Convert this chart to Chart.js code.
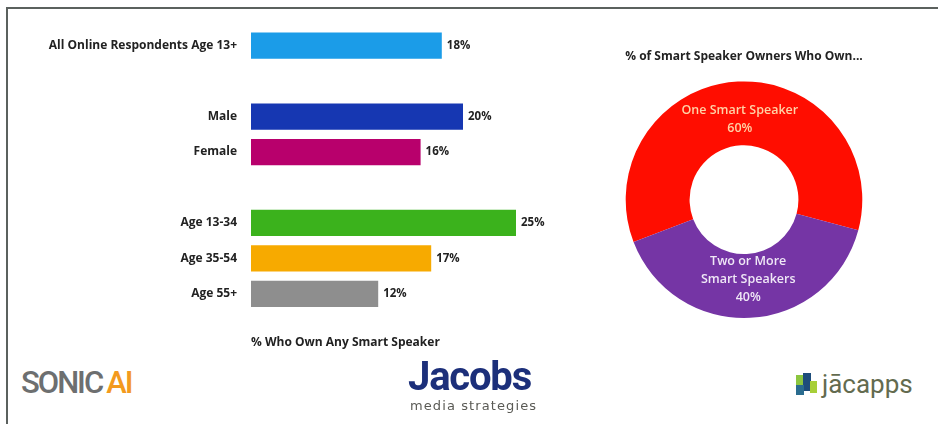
<!DOCTYPE html>
<html>
<head>
<meta charset="utf-8">
<script src="https://cdn.jsdelivr.net/npm/chart.js@4"></script>
<style>
  body { margin: 0; background: #fff; font-family: "Open Sans", sans-serif; }
  #wrap { position: relative; width: 938px; height: 424px; overflow: hidden; }
  #frame { position: absolute; left: 6px; top: 7px; width: 940px; height: 430px;
           border-left: 2px solid #5b615e; border-top: 2px solid #5b615e; }
  #barBox { position: absolute; left: 0; top: 0; width: 580px; height: 356px; }
  #pieBox { position: absolute; left: 604px; top: 40px; width: 280px; height: 280px; }
  .logo { position: absolute; white-space: nowrap; }
</style>
</head>
<body>
<div id="wrap">
  <div id="frame"></div>
  <div id="barBox"><canvas id="barChart"></canvas></div>
  <div id="pieBox"><canvas id="pieChart"></canvas></div>

  <div class="logo" style="left:21px;top:364px;font:500 31px 'Roboto',sans-serif;color:#6d6f70;letter-spacing:-2px;">SONIC<span style="color:#f39a1e;margin-left:4px;">AI</span></div>
  <div class="logo" style="left:408px;top:353px;font:bold 40px 'Roboto',sans-serif;color:#1c2f7a;letter-spacing:-1.2px;">Jacobs</div>
  <div class="logo" style="left:410px;top:398px;font:13px 'DejaVu Sans',sans-serif;color:#5a5a55;letter-spacing:1.1px;">media strategies</div>
  <div class="logo" style="left:796px;top:373px;width:22px;height:24px;">
    <div style="position:absolute;left:0;top:2px;width:8px;height:10px;background:#8cc63f;"></div>
    <div style="position:absolute;left:7px;top:0;width:8px;height:18px;background:#1e4d7b;"></div>
    <div style="position:absolute;left:0;top:12px;width:8px;height:10px;background:#2a6c8f;"></div>
    <div style="position:absolute;left:14px;top:8px;width:7px;height:12px;background:#a7cf38;"></div>
  </div>
  <div class="logo" style="left:822px;top:369px;font:26px 'Liberation Sans Narrow','Roboto',sans-serif;color:#636b4f;">jācapps</div>
</div>

<script>
// bar chart data
const categories = ['All Online Respondents Age 13+', '', 'Male', 'Female', '', 'Age 13-34', 'Age 35-54', 'Age 55+'];
const ownAny = [18, null, 20, 16, null, 25, 17, 12];
const barColors = ['#1b9ce8', '#fff', '#1637b2', '#b8006c', '#fff', '#3bb21c', '#f7aa00', '#8e8e8e'];

// doughnut data
const ownerGroups = [['One Smart Speaker', '60%'], ['Two or More', 'Smart Speakers', '40%']];
const ownerShares = [60, 40];
const ownerColors = ['#ff0d00', '#7535a5'];
const ownerText = ['#ffd2a6', '#efe7f6'];

const barValueLabels = {
    id: 'barValueLabels',
    afterDatasetsDraw(chart) {
        const ctx = chart.ctx;
        ctx.save();
        ctx.font = 'bold 11.5px "Open Sans"';
        ctx.fillStyle = '#222';
        ctx.textBaseline = 'middle';
        chart.getDatasetMeta(0).data.forEach((bar, i) => {
            const v = ownAny[i];
            if (v == null) return;
            ctx.fillText(v + '%', bar.x + 5, bar.y);
        });
        ctx.restore();
    }
};

new Chart(document.getElementById('barChart'), {
    type: 'bar',
    data: {
        labels: categories,
        datasets: [{
            data: ownAny,
            backgroundColor: barColors,
            barPercentage: 0.74,
            categoryPercentage: 1
        }]
    },
    options: {
        indexAxis: 'y',
        responsive: true,
        maintainAspectRatio: false,
        animation: false,
        layout: { padding: { top: 28, right: 11, bottom: 6, left: 0 } },
        plugins: { legend: { display: false }, tooltip: { enabled: false } },
        scales: {
            x: {
                min: 0, max: 30,
                grid: { display: false, drawTicks: false },
                border: { display: false },
                ticks: { display: false },
                title: {
                    display: true,
                    text: '% Who Own Any Smart Speaker',
                    align: 'start',
                    color: '#222',
                    font: { family: 'Open Sans', size: 12, weight: 'bold' },
                    padding: { top: 24, bottom: 0 }
                }
            },
            y: {
                grid: { display: false, drawTicks: false },
                border: { display: false },
                ticks: {
                    color: '#222',
                    padding: 14,
                    font: { family: 'Open Sans', size: 12, weight: 'bold' }
                },
                afterFit(scale) { scale.width = 251; }
            }
        }
    },
    plugins: [barValueLabels]
});

const sliceLabels = {
    id: 'sliceLabels',
    afterDatasetsDraw(chart) {
        const ctx = chart.ctx;
        ctx.save();
        ctx.font = '600 12.5px "Open Sans"';
        ctx.textAlign = 'center';
        ctx.textBaseline = 'middle';
        chart.getDatasetMeta(0).data.forEach((arc, i) => {
            const mid = (arc.startAngle + arc.endAngle) / 2;
            const r = arc.innerRadius + 0.40 * (arc.outerRadius - arc.innerRadius);
            const x = arc.x + r * Math.cos(mid);
            const y = arc.y + r * Math.sin(mid);
            const lines = ownerGroups[i];
            const lh = 18;
            ctx.fillStyle = ownerText[i];
            lines.forEach((t, j) => {
                ctx.fillText(t, x, y + (j - (lines.length - 1) / 2) * lh);
            });
        });
        ctx.restore();
    }
};

new Chart(document.getElementById('pieChart'), {
    type: 'doughnut',
    data: {
        labels: ownerGroups.map(g => g.join(' ')),
        datasets: [{
            data: ownerShares,
            backgroundColor: ownerColors,
            borderWidth: 0
        }]
    },
    options: {
        responsive: true,
        maintainAspectRatio: false,
        animation: false,
        cutout: '46%',
        rotation: 249,
        layout: { padding: { bottom: 2 } },
        plugins: {
            legend: { display: false },
            tooltip: { enabled: false },
            title: {
                display: true,
                text: '% of Smart Speaker Owners Who Own...',
                color: '#222',
                font: { family: 'Open Sans', size: 12, weight: 'bold' },
                padding: { top: 9, bottom: 18 }
            }
        }
    },
    plugins: [sliceLabels]
});
</script>
</body>
</html>
